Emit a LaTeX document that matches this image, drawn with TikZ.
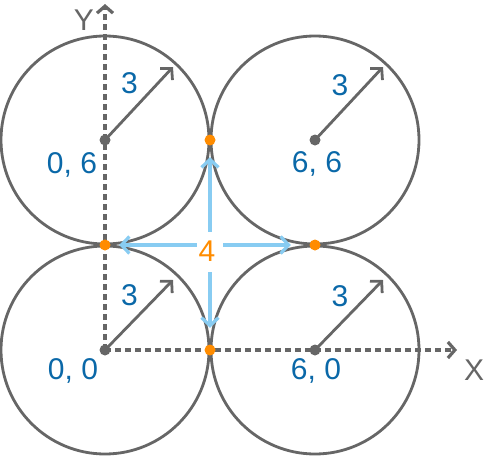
\documentclass[tikz,border=0pt]{standalone}
\usepackage{fontspec}
\setmainfont{Liberation Sans}
\usetikzlibrary{arrows.meta}
\definecolor{gc}{HTML}{666666}
\definecolor{bc}{HTML}{0A68A8}
\definecolor{oc}{HTML}{FF8C00}
\definecolor{lb}{HTML}{88CCF2}
\begin{document}
\begin{tikzpicture}[x=1pt,y=-1pt,
  ring/.style={circle,draw=gc,line width=2.8pt,minimum size=208pt,inner sep=0pt},
  cdot/.style={circle,fill=gc,minimum size=11pt,inner sep=0pt},
  odot/.style={circle,fill=oc,minimum size=11pt,inner sep=0pt},
  axis/.style={draw=gc,line width=3.2pt,dash pattern=on 6pt off 4pt,-{Straight Barb[length=7pt,width=16pt]}},
  rad/.style={draw=gc,line width=2.8pt,-{Straight Barb[length=8pt,width=17pt]}},
  blu/.style={draw=lb,line width=3.2pt,{Straight Barb[length=8pt,width=17pt]}-{Straight Barb[length=8pt,width=17pt]}},
  lbl/.style={inner sep=0pt,anchor=base,font=\fontsize{30}{30}\selectfont},
  mask/.style={fill=white,inner sep=0pt,minimum width=26pt,minimum height=40pt}
]
\useasboundingbox (0,0) rectangle (492,455);
% circles
\node[ring] (C00) at (105,350) {};
\node[ring] (C60) at (315,350) {};
\node[ring] (C06) at (105,140) {};
\node[ring] (C66) at (315,140) {};
% axes
\coordinate (ytip) at (105,4);
\coordinate (xtip) at (457,350);
\draw[axis] (C00.center) -- (ytip);
\draw[axis] (C00.center) -- (xtip);
% centre dots
\node[cdot] (D00) at (105,350) {};
\node[cdot] (D60) at (315,350) {};
\node[cdot] (D06) at (105,140) {};
\node[cdot] (D66) at (315,140) {};
% radius arrows
\coordinate (R00) at (173,280);
\coordinate (R60) at (383,280);
\coordinate (R06) at (173,67);
\coordinate (R66) at (383,67);
\draw[rad] (D00.center) -- (R00);
\draw[rad] (D60.center) -- (R60);
\draw[rad] (D06.center) -- (R06);
\draw[rad] (D66.center) -- (R66);
% tangent points
\node[odot] (Tt) at (210,140) {};
\node[odot] (Tl) at (105,245) {};
\node[odot] (Tr) at (315,245) {};
\node[odot] (Tb) at (210,350) {};
% blue distance arrows
\draw[blu,shorten <=8.5pt,shorten >=18.5pt] (Tl) -- (Tr);
\draw[blu,shorten <=11.5pt,shorten >=16.5pt] (Tt) -- (Tb);
\node[mask] (gap) at (210,252) {};
\node[lbl,text=oc] (four) at (207,261) {4};
% labels
\node[lbl,text=bc] (r06) at (129.5,93) {3};
\node[lbl,text=bc] (r66) at (340,95) {3};
\node[lbl,text=bc] (r00) at (129.5,305) {3};
\node[lbl,text=bc] (r60) at (340,306) {3};
\node[lbl,text=bc] (p06) at (72,173) {0, 6};
\node[lbl,text=bc] (p66) at (317,172) {6, 6};
\node[lbl,text=bc] (p00) at (73,379) {0, 0};
\node[lbl,text=bc] (p60) at (316,379) {6, 0};
\node[lbl,text=gc] (xl) at (474,380) {X};
\node[lbl,text=gc] (yl) at (84,30) {Y};
\end{tikzpicture}
\end{document}
